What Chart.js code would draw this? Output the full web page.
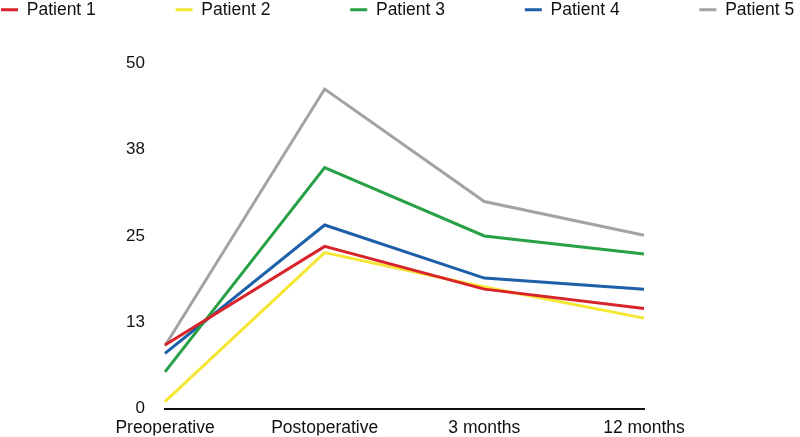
<!DOCTYPE html>
<html>
<head>
<meta charset="utf-8">
<script src="https://cdn.jsdelivr.net/npm/chart.js@4/dist/chart.umd.min.js"></script>
<style>
  html, body { margin: 0; padding: 0; background: #fff; }
</style>
</head>
<body>
<canvas id="scores" width="800" height="437"></canvas>
<script>
var timepoints = ["Preoperative", "Postoperative", "3 months", "12 months"];
var patientNames = ["Patient 1", "Patient 2", "Patient 3", "Patient 4", "Patient 5"];
var patient1 = [9.2, 23.5, 17.3, 14.5];
var patient2 = [1.0, 22.6, 17.6, 13.1];
var patient3 = [5.3, 34.9, 25.0, 22.4];
var patient4 = [8.0, 26.6, 18.9, 17.3];
var patient5 = [9.1, 46.3, 30.0, 25.1];
var yMin = 0, yMax = 50, yStep = 12.5;

var lineColors = ["#d9232a", "#f5e633", "#28a046", "#1d5fa9", "#a3a3a3"];
var fontFamily = "'Liberation Sans', Arial, sans-serif";
var legendSize = 17.5;
var boxW = 17, legendPad = 1, itemStep = 173.5;

// widen legend labels so the five items spread across the top like the original
var measure = document.createElement('canvas').getContext('2d');
measure.font = legendSize + "px " + fontFamily;
function padLabel(text, target) {
  while (measure.measureText(text + ' ').width <= target) text += ' ';
  while (measure.measureText(text).width < target) text += '\u200A';
  return text;
}

var series = [patient1, patient2, patient3, patient4, patient5];
var datasets = series.map(function (vals, i) {
  return {
    label: patientNames[i],
    data: vals,
    borderColor: lineColors[i],
    backgroundColor: lineColors[i],
    borderWidth: 3,
    pointRadius: 0,
    tension: 0
  };
});

var ctx = document.getElementById("scores").getContext('2d');
var myChart = new Chart(ctx, {
  type: 'line',
  data: { labels: timepoints, datasets: datasets },
  options: {
    responsive: false,
    animation: false,
    layout: { padding: 0 },
    plugins: {
      tooltip: { enabled: false },
      legend: {
        position: 'top',
        align: 'start',
        labels: {
          boxWidth: boxW,
          boxHeight: 3,
          padding: legendPad,
          color: '#111',
          font: { family: fontFamily, size: legendSize },
          generateLabels: function (chart) {
            var items = Chart.defaults.plugins.legend.labels.generateLabels(chart);
            items.forEach(function (it, i) {
              it.lineWidth = 0;
              if (i < items.length - 1) {
                it.text = padLabel(it.text, itemStep - boxW - legendSize / 2 - legendPad);
              }
            });
            return items;
          }
        }
      },
      // empty spacer between legend and plot
      title: {
        display: true,
        text: ' ',
        weight: 500,
        font: { size: 10, lineHeight: 1 },
        padding: { top: 0, bottom: 25 }
      }
    },
    scales: {
      x: {
        offset: false,
        grid: { display: false, drawTicks: false },
        border: { display: true, color: '#111', width: 2 },
        ticks: {
          color: '#111',
          padding: 9,
          maxRotation: 0,
          font: { family: fontFamily, size: 17.5 }
        },
        afterFit: function (s) { s.height = 27; }
      },
      y: {
        min: yMin,
        max: yMax,
        grid: { display: false, drawTicks: false },
        border: { display: false },
        ticks: {
          stepSize: yStep,
          color: '#111',
          padding: 20,
          font: { family: fontFamily, size: 17, lineHeight: 1 },
          callback: function (v) { return Math.round(v); }
        },
        afterFit: function (s) { s.width = 165; }
      },
      yRight: {
        position: 'right',
        display: true,
        grid: { display: false, drawTicks: false },
        border: { display: false },
        ticks: { display: false },
        afterFit: function (s) { s.width = 156; }
      }
    }
  }
});
</script>
</body>
</html>
